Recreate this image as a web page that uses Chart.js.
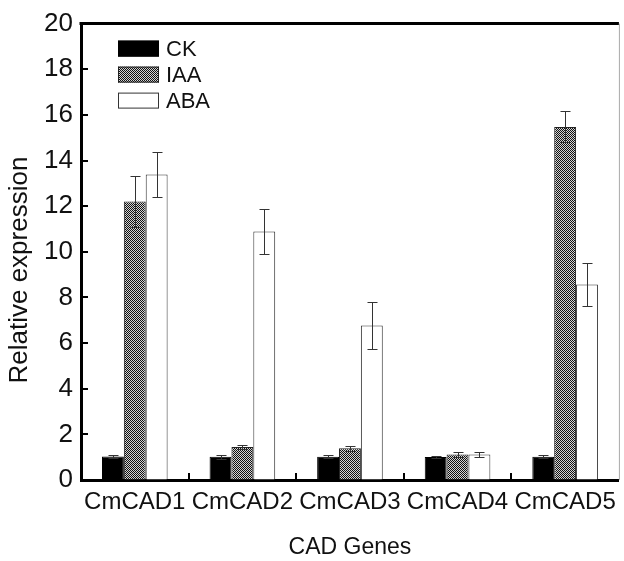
<!DOCTYPE html>
<html>
<head>
<meta charset="utf-8">
<script src="https://cdn.jsdelivr.net/npm/chart.js@4.4.0/dist/chart.umd.min.js"></script>
<style>
  html, body { margin: 0; padding: 0; background: #fff; }
  #wrap { width: 624px; height: 561px; }
</style>
</head>
<body>
<div id="wrap"><canvas id="chart" width="624" height="561"></canvas></div>
<script>
// データ
const genes = ['CmCAD1', 'CmCAD2', 'CmCAD3', 'CmCAD4', 'CmCAD5']
const ckValues = [1.03, 1.02, 1.02, 1.01, 1.02]
const ckErrors = [0.07, 0.08, 0.07, 0.03, 0.06]
const iaaValues = [12.2, 1.45, 1.39, 1.12, 15.47]
const iaaErrors = [1.1, 0.1, 0.11, 0.12, 0.68]
const abaValues = [13.39, 10.89, 6.77, 1.12, 8.57]
const abaErrors = [1.0, 0.99, 1.04, 0.1, 0.93]
const yTicks = [0, 2, 4, 6, 8, 10, 12, 14, 16, 18, 20]
const yTitle = 'Relative expression'

const FONT = "'Liberation Sans', Arial, sans-serif"

const canvas = document.getElementById('chart')
const ctx = canvas.getContext('2d')

// IAA の網点パターン
function makeDots() {
  const c = document.createElement('canvas')
  c.width = 2
  c.height = 2
  const g = c.getContext('2d')
  g.fillStyle = '#d4d4d4'
  g.fillRect(0, 0, 2, 2)
  g.fillStyle = '#111'
  g.fillRect(0, 0, 1, 1)
  g.fillRect(1, 1, 1, 1)
  return ctx.createPattern(c, 'repeat')
}
const dots = makeDots()

const errorSets = [ckErrors, iaaErrors, abaErrors]

// エラーバー
const errorBarPlugin = {
  id: 'errorBars',
  afterDatasetsDraw(chart) {
    const c = chart.ctx
    const y = chart.scales.y
    chart.data.datasets.forEach((ds, i) => {
      const meta = chart.getDatasetMeta(i)
      meta.data.forEach((bar, j) => {
        const v = ds.data[j]
        const e = errorSets[i][j]
        const top = Math.round(y.getPixelForValue(v + e)) + 0.5
        const bot = Math.round(y.getPixelForValue(v - e)) + 0.5
        const x = Math.round(bar.x) + 0.5
        c.save()
        c.strokeStyle = '#333'
        c.lineWidth = 1
        c.beginPath()
        c.moveTo(x, top)
        c.lineTo(x, bot)
        c.moveTo(x - 5, top)
        c.lineTo(x + 5, top)
        c.moveTo(x - 5, bot)
        c.lineTo(x + 5, bot)
        c.stroke()
        c.restore()
      })
    })
  }
}

// 枠線・内向きの目盛り・縦軸タイトル
const framePlugin = {
  id: 'frame',
  afterDraw(chart) {
    const c = chart.ctx
    const a = chart.chartArea
    const x = chart.scales.x
    const y = chart.scales.y
    c.save()
    c.strokeStyle = '#000'
    c.lineWidth = 3
    c.beginPath()
    c.moveTo(a.left - 1.5, a.top)
    c.lineTo(a.right, a.top)
    c.stroke()
    c.strokeStyle = '#aaa'
    c.lineWidth = 1
    c.beginPath()
    c.moveTo(a.right + 0.5, a.top)
    c.lineTo(a.right + 0.5, a.bottom)
    c.stroke()
    c.strokeStyle = '#000'
    c.lineWidth = 2
    c.beginPath()
    yTicks.forEach(t => {
      const py = Math.round(y.getPixelForValue(t))
      c.moveTo(a.left, py)
      c.lineTo(a.left + 7, py)
    })
    for (let i = 1; i < genes.length; i++) {
      const px = Math.round((x.getPixelForValue(i - 1) + x.getPixelForValue(i)) / 2)
      c.moveTo(px, a.bottom)
      c.lineTo(px, a.bottom - 7)
    }
    c.stroke()

    // 縦軸タイトル（少し下寄り）
    c.translate(20, y.getPixelForValue(9.2))
    c.rotate(-Math.PI / 2)
    c.fillStyle = '#111'
    c.font = '26px ' + FONT
    c.textAlign = 'center'
    c.textBaseline = 'middle'
    c.fillText(yTitle, 0, 0)
    c.restore()
  }
}

// 凡例（グラフ内左上）
const legendPlugin = {
  id: 'innerLegend',
  afterDraw(chart) {
    const c = chart.ctx
    const a = chart.chartArea
    const left = a.left + 37
    let top = a.top + 17
    c.save()
    chart.data.datasets.forEach(ds => {
      c.fillStyle = ds.backgroundColor
      c.fillRect(left, top, 41, 16)
      c.strokeStyle = ds.borderColor
      c.lineWidth = 1
      c.strokeRect(left + 0.5, top + 0.5, 40, 15)
      c.fillStyle = '#111'
      c.font = '22px ' + FONT
      c.textBaseline = 'middle'
      c.textAlign = 'left'
      c.fillText(ds.label, left + 48, top + 9)
      top += 26
    })
    c.restore()
  }
}

new Chart(ctx, {
  type: 'bar',
  data: {
    labels: genes,
    datasets: [
      { label: 'CK', data: ckValues, backgroundColor: '#000', borderColor: '#000', borderWidth: 1 },
      { label: 'IAA', data: iaaValues, backgroundColor: dots, borderColor: '#222', borderWidth: 1 },
      { label: 'ABA', data: abaValues, backgroundColor: '#fff', borderColor: '#333', borderWidth: 1 }
    ]
  },
  options: {
    responsive: false,
    animation: false,
    devicePixelRatio: 1,
    layout: { padding: { top: 21, right: 2, left: 0, bottom: 0 } },
    datasets: { bar: { categoryPercentage: 0.61, barPercentage: 1 } },
    plugins: {
      legend: { display: false },
      tooltip: { enabled: false }
    },
    scales: {
      x: {
        grid: { display: true, drawOnChartArea: false, drawTicks: false },
        border: { display: true, color: '#000', width: 3 },
        ticks: { color: '#111', font: { family: FONT, size: 24 }, padding: 8, maxRotation: 0, autoSkip: false },
        title: { display: true, text: 'CAD Genes', color: '#111', font: { family: FONT, size: 23 }, padding: { top: 0, bottom: 0 } },
        afterFit(scale) { scale.height = 81 }
      },
      y: {
        min: 0,
        max: 20,
        grid: { display: true, drawOnChartArea: false, drawTicks: false },
        border: { display: true, color: '#000', width: 3 },
        ticks: { stepSize: 2, color: '#111', font: { family: FONT, size: 26 }, padding: 8 },
        title: { display: false },
        afterFit(scale) { scale.width = 81 }
      }
    }
  },
  plugins: [errorBarPlugin, framePlugin, legendPlugin]
})
</script>
</body>
</html>
